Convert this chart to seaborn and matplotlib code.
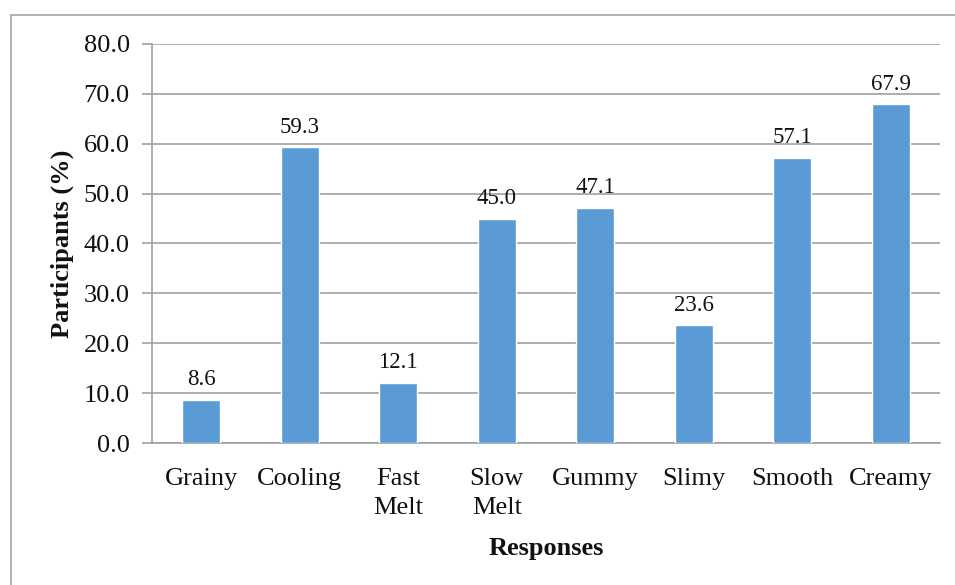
import matplotlib
matplotlib.use("Agg")
import matplotlib.pyplot as plt
import seaborn as sns
import pandas as pd
from matplotlib.patches import Rectangle

# Datos
responses = ["Grainy", "Cooling", "Fast\nMelt", "Slow\nMelt", "Gummy", "Slimy", "Smooth", "Creamy"]
participants = [8.6, 59.3, 12.1, 45.0, 47.1, 23.6, 57.1, 67.9]
y_ticks = [0, 10, 20, 30, 40, 50, 60, 70, 80]

df = pd.DataFrame({"Response": responses, "Participants": participants})

sns.set_style("white")
plt.rcParams["font.family"] = ["Liberation Serif", "DejaVu Serif"]

fig = plt.figure(figsize=(9.55, 5.85), dpi=100)
W, H = 955, 585
ax = fig.add_axes([152 / W, 1 - 443 / H, (940 - 152) / W, (443 - 44) / H])

# Marco exterior
fig.patches.append(Rectangle((11 / W, -0.05), 1.1, 1 - 15 / H + 0.05, transform=fig.transFigure,
                             fill=False, edgecolor="#A6A6A6", linewidth=1.2))

sns.barplot(data=df, x="Response", y="Participants", color="#5B9BD5", width=0.39,
            saturation=1, ax=ax, zorder=3)

for i, v in enumerate(participants):
    ax.annotate(f"{v:.1f}", (i, v), xytext=(0, 7), textcoords="offset points",
                ha="center", va="bottom", fontsize=16.5, color="#111111")

ax.set_ylim(0, 80)
ax.set_xlim(-0.5, len(responses) - 0.5)
ax.set_yticks(y_ticks)
ax.set_yticklabels([f"{t:.1f}" for t in y_ticks], fontsize=19, color="#111111")
ax.yaxis.grid(True, color="#A0A0A0", linewidth=1.2, zorder=0)
ax.set_axisbelow(True)

ax.set_xticks(range(len(responses)))
ax.set_xticklabels(responses, fontsize=19, linespacing=1.4, color="#111111")
ax.set_xticks([i - 0.5 for i in range(len(responses) + 1)], minor=True)
ax.tick_params(axis="x", which="major", length=0, pad=18)
ax.tick_params(axis="x", which="minor", length=7, color="#A0A0A0", width=1.2)
ax.tick_params(axis="y", length=7, color="#A0A0A0", width=1.2, pad=9, left=True)

for s in ["top", "right"]:
    ax.spines[s].set_visible(False)
for s in ["left", "bottom"]:
    ax.spines[s].set_color("#A0A0A0")
    ax.spines[s].set_linewidth(1.2)

ax.set_xlabel("Responses", fontsize=19, fontweight="bold", labelpad=13, color="#111111")
ax.set_ylabel("Participants (%)", fontsize=19, fontweight="bold", labelpad=7, color="#111111")

fig.savefig("out.png", dpi=100)
